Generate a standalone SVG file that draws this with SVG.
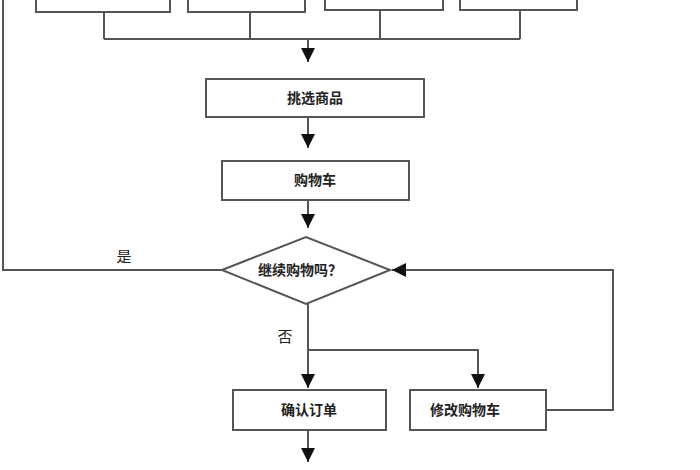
<svg xmlns="http://www.w3.org/2000/svg" width="700" height="470" viewBox="0 0 700 470">
<style>
.b{fill:#fff;stroke:#555;stroke-width:2}
.l{fill:none;stroke:#555;stroke-width:2}
text{font-family:"Noto Sans CJK SC","Liberation Sans",sans-serif;font-size:14px;fill:#222;text-anchor:middle;font-weight:bold}
</style>
<defs><marker id="a" markerWidth="14" markerHeight="14" refX="12" refY="6" orient="auto" markerUnits="userSpaceOnUse" viewBox="0 0 12 12"><path d="M0,0L12,6L0,12z" fill="#111"/></marker></defs>
<rect width="700" height="470" fill="#fff"/>
<g id="top1"><rect class="b" x="36" y="-20" width="134" height="32"/></g>
<g id="top2"><rect class="b" x="188" y="-20" width="117" height="32"/></g>
<g id="top3"><rect class="b" x="325" y="-20" width="118" height="30"/></g>
<g id="top4"><rect class="b" x="460" y="-20" width="117" height="30"/></g>
<g id="pick"><rect class="b" x="206" y="79" width="218" height="38"/><text x="315" y="103">挑选商品</text></g>
<g id="cart"><rect class="b" x="222" y="161" width="187" height="39"/><text x="315" y="185">购物车</text></g>
<g id="ask"><polygon class="b" points="222,270 306,237 390,270 306,304"/><text x="300" y="275">继续购物吗？</text></g>
<g id="confirm"><rect class="b" x="233" y="390" width="153" height="40"/><text x="309" y="415">确认订单</text></g>
<g id="modify"><rect class="b" x="410" y="390" width="136" height="40"/><text x="465" y="415">修改购物车</text></g>
<g id="connectors">
<path class="l" d="M104,12V39M250,12V39M380,10V39M520,10V39M104,39H520"/>
<path class="l" d="M308,39V62" marker-end="url(#a)"/>
<path class="l" d="M308,117V148" marker-end="url(#a)"/>
<path class="l" d="M308,200V228" marker-end="url(#a)"/>
<path class="l" d="M222,270H3V0"/>
<path class="l" d="M308,304V388" marker-end="url(#a)"/>
<path class="l" d="M308,350H478V388" marker-end="url(#a)"/>
<path class="l" d="M308,430V462" marker-end="url(#a)"/>
<path class="l" d="M546,410H613V270H392" marker-end="url(#a)"/>
<text x="124" y="262" style="font-weight:normal;font-size:15px">是</text>
<text x="285" y="342" style="font-weight:normal;font-size:15px">否</text>
</g>
</svg>
